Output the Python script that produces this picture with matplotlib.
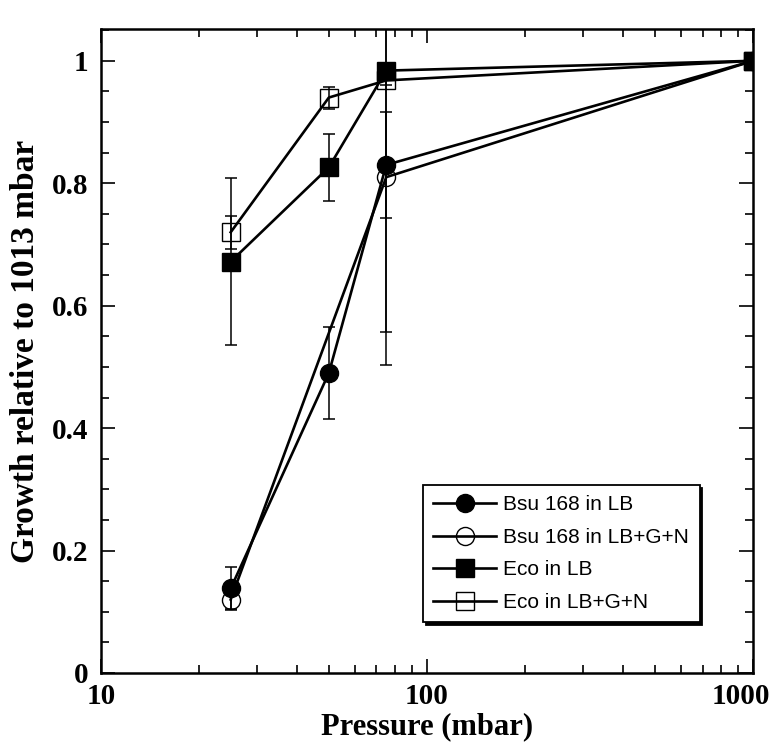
import matplotlib.pyplot as plt
from matplotlib.transforms import ScaledTranslation
from matplotlib.ticker import MultipleLocator, LogLocator, NullFormatter, FixedLocator, FixedFormatter

# data
pressure = [25, 50, 75, 1000]
bsu_lb = [0.138, 0.49, 0.83, 1.0]
bsu_lb_err = [0.035, 0.075, 0.087, 0.0]
bsu_gn_p = [25, 75, 1000]
bsu_gn = [0.12, 0.81, 1.0]
bsu_gn_err = [0.015, 0.307, 0.0]
eco_lb = [0.672, 0.826, 0.984, 1.0]
eco_lb_err = [0.137, 0.055, 0.427, 0.0]
eco_gn = [0.72, 0.94, 0.968, 1.0]
eco_gn_err = [0.027, 0.018, 0.008, 0.0]

labels = ['Bsu 168 in LB', 'Bsu 168 in LB+G+N', 'Eco in LB', 'Eco in LB+G+N']

fig = plt.figure(figsize=(7.72, 7.49), dpi=100)
ax = fig.add_axes([0.1308, 0.1015, 0.8446, 0.8598])

# error bars first, markers and lines on top
ekw = dict(fmt='none', ecolor='black', elinewidth=1.1, capsize=4, capthick=1.1)
ax.errorbar(pressure, eco_gn, yerr=eco_gn_err, **ekw)
ax.errorbar(pressure, eco_lb, yerr=eco_lb_err, **ekw)
ax.errorbar(bsu_gn_p, bsu_gn, yerr=bsu_gn_err, **ekw)
ax.errorbar(pressure, bsu_lb, yerr=bsu_lb_err, **ekw)

l4, = ax.plot(pressure, eco_gn, color='black', lw=1.9, marker='s', ms=13,
              mfc='none', mec='black', mew=1.0)
l3, = ax.plot(pressure, eco_lb, color='black', lw=1.9, marker='s', ms=13,
              mfc='black', mec='black')
l2, = ax.plot(bsu_gn_p, bsu_gn, color='black', lw=1.9, marker='o', ms=13,
              mfc='none', mec='black', mew=1.0)
l1, = ax.plot(pressure, bsu_lb, color='black', lw=1.9, marker='o', ms=13,
              mfc='black', mec='black')

ax.set_xscale('log')
ax.set_xlim(10, 1000)
ax.set_ylim(0, 1.052)

ax.xaxis.set_major_locator(FixedLocator([10, 100, 1000]))
ax.xaxis.set_major_formatter(FixedFormatter(['10', '100', '1000']))
ax.xaxis.set_minor_locator(LogLocator(base=10, subs=range(2, 10)))
ax.xaxis.set_minor_formatter(NullFormatter())
ax.yaxis.set_major_locator(FixedLocator([0, 0.2, 0.4, 0.6, 0.8, 1.0]))
ax.yaxis.set_major_formatter(FixedFormatter(['0', '0.2', '0.4', '0.6', '0.8', '1']))
ax.yaxis.set_minor_locator(MultipleLocator(0.05))

ax.tick_params(which='both', direction='in', top=True, right=True, width=1.2)
ax.tick_params(which='major', length=10)
ax.tick_params(which='minor', length=6)
ax.tick_params(axis='x', which='major', pad=7)
ax.tick_params(axis='y', which='major', pad=9)
for s in ax.spines.values():
    s.set_linewidth(1.8)

for t in ax.get_xticklabels() + ax.get_yticklabels():
    t.set_fontfamily('Liberation Serif')
    t.set_fontweight('bold')
    t.set_fontsize(21)

# the last x label is pulled in so it stays inside the figure
last = ax.xaxis.get_major_ticks()[-1].label1
last.set_transform(last.get_transform() + ScaledTranslation(-0.12, 0, fig.dpi_scale_trans))

ax.set_xlabel('Pressure (mbar)', labelpad=2, family='Liberation Serif',
              weight='bold', size=22)
ax.set_ylabel('Growth relative to 1013 mbar', labelpad=8, family='Liberation Serif',
              weight='bold', size=24)

leg = ax.legend([l1, l2, l3, l4], labels,
                loc='upper left', bbox_to_anchor=(0.494, 0.292),
                prop={'family': 'Liberation Sans', 'size': 15},
                frameon=True, fancybox=False, edgecolor='black',
                shadow={'color': 'black', 'alpha': 1.0},
                handlelength=3.0, handletextpad=0.35, labelspacing=0.65,
                borderpad=0.5, borderaxespad=0)
leg.get_frame().set_linewidth(1.3)

fig.savefig('out.png', dpi=100)
